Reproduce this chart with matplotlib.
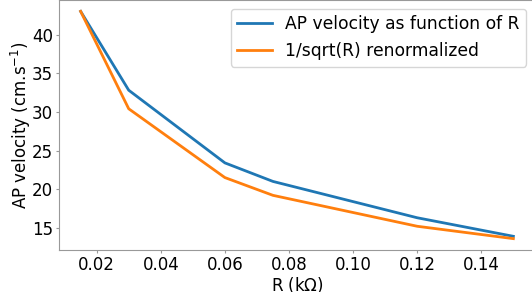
import matplotlib
matplotlib.use('Agg')
import matplotlib.pyplot as plt

# resistance (kOhm) and AP velocity (cm/s)
r_values = [0.015, 0.03, 0.06, 0.075, 0.12, 0.15]
velocity = [43.0, 32.8, 23.4, 21.0, 16.3, 13.9]
inv_sqrt_renorm = [43.0, 30.4, 21.5, 19.2, 15.2, 13.6]

plt.rcParams['font.size'] = 12
plt.rcParams['axes.edgecolor'] = '#999999'
plt.rcParams['xtick.color'] = '#999999'
plt.rcParams['ytick.color'] = '#999999'
plt.rcParams['xtick.labelcolor'] = 'black'
plt.rcParams['ytick.labelcolor'] = 'black'
plt.rcParams['xtick.major.size'] = 2
plt.rcParams['ytick.major.size'] = 2
plt.rcParams['xtick.major.pad'] = 2.3
plt.rcParams['ytick.major.pad'] = 2.3

fig = plt.figure(figsize=(5.32, 2.92), dpi=100)
ax = fig.add_axes([59 / 532, 42 / 292, 476 / 532, 250 / 292])

ax.plot(r_values, velocity, color='#1f77b4', lw=2, label='AP velocity as function of R')
ax.plot(r_values, inv_sqrt_renorm, color='#ff7f0e', lw=2, label='1/sqrt(R) renormalized')

ax.set_xlabel('R (k$\\Omega$)', labelpad=1)
ax.set_ylabel('AP velocity (cm.s$^{-1}$)', labelpad=-1)
ax.set_xticks([0.02, 0.04, 0.06, 0.08, 0.10, 0.12, 0.14])
ax.set_yticks([15, 20, 25, 30, 35, 40])
ax.legend(loc='upper right', fontsize=12.3)

fig.savefig('out.png', dpi=100)
